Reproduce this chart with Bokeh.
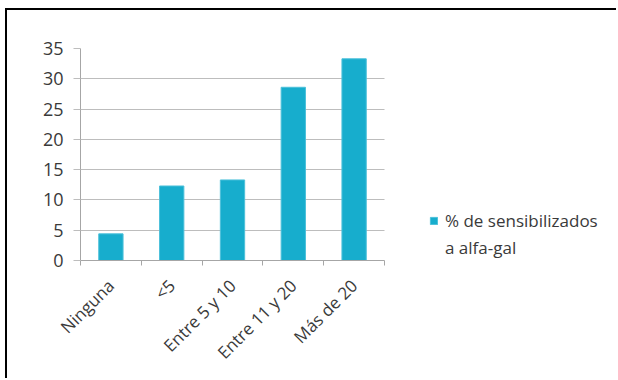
from bokeh.plotting import figure
from bokeh.models import (FixedTicker, Legend, LegendItem, ColumnDataSource, Range1d)
from bokeh.embed import file_html
from bokeh.resources import INLINE
import math

categories = ["Ninguna", "<5", "Entre 5 y 10", "Entre 11 y 20", "Más de 20"]
values = [4.4, 12.3, 13.3, 28.6, 33.3]
y_ticks = [0, 5, 10, 15, 20, 25, 30, 35]
series_name_lines = ["% de sensibilizados", "a alfa-gal"]

FONT = "Open Sans"
TXT = "#3A3A3A"
BAR = "#17ADCD"
AXIS = "#A6A6A6"

n = len(categories)
xs = [i + 0.5 for i in range(n)]
src = ColumnDataSource(dict(x=xs, top=values, cat=categories))

# page geometry (pixels)
CX, CY = 7, 10            # content origin after css margin + border
FL, FR, FT, FB = 80, 618, 48, 260   # frame edges on the page
axis_px = 304             # width of the category axis
x_end = n * (FR - FL) / axis_px

p = figure(width=618 - CX, height=380 - CY, output_backend="svg", toolbar_location=None,
           x_range=Range1d(0, x_end), y_range=Range1d(0, 35),
           min_border_left=FL - CX, min_border_right=0, min_border_top=FT - CY,
           min_border_bottom=380 - FB)
p.outline_line_color = None
p.background_fill_color = "white"
p.border_fill_color = "white"
p.styles = {"border-top": "2px solid black", "border-left": "2px solid black",
            "margin-left": f"{CX - 2}px", "margin-top": f"{CY - 2}px"}

r = p.vbar(x="x", top="top", width=0.4, source=src, fill_color=BAR, line_color="#4CC0DA", line_width=1)
# empty renderer used only to carry the second line of the legend label (no glyph shown)
r_blank = p.vbar(x=[], top=[], width=0.4, fill_alpha=0, line_alpha=0)

# x axis: labels at centers, tick marks at category boundaries
xa = p.xaxis[0]
xa.bounds = (0, n)
xa.ticker = FixedTicker(ticks=xs, minor_ticks=list(range(n + 1)))
xa.major_label_overrides = {x: c for x, c in zip(xs, categories)}
xa.major_tick_line_color = None
xa.minor_tick_line_color = AXIS
xa.minor_tick_out = 5
xa.minor_tick_in = 0
xa.axis_line_color = AXIS
xa.major_label_orientation = math.pi / 4
xa.major_label_text_font = FONT
xa.major_label_text_font_size = "17px"
xa.major_label_text_color = TXT
xa.major_label_standoff = 16

ya = p.yaxis[0]
ya.ticker = FixedTicker(ticks=y_ticks)
ya.minor_tick_line_color = None
ya.major_tick_line_color = "#BDBDBD"
ya.major_tick_out = 7
ya.major_tick_in = 0
ya.axis_line_color = AXIS
ya.major_label_text_font = FONT
ya.major_label_text_font_size = "18px"
ya.major_label_text_color = TXT
ya.major_label_standoff = 10

p.xgrid.grid_line_color = None
p.ygrid.ticker = FixedTicker(ticks=y_ticks)
p.ygrid.cross_bounds = (0, n)
p.ygrid.grid_line_color = "#BDBDBD"
p.ygrid.grid_line_width = 1

legend = Legend(items=[LegendItem(label=series_name_lines[0], renderers=[r]),
                       LegendItem(label=series_name_lines[1], renderers=[r_blank])],
                location=(429 - FL, 1), orientation="vertical",
                border_line_color=None, background_fill_alpha=0,
                glyph_width=9, glyph_height=9, padding=0, margin=0, spacing=4,
                label_height=20,
                label_text_font=FONT, label_text_font_size="17px", label_text_color=TXT,
                label_standoff=7)
p.add_layout(legend, "center")

open("out.html", "w").write(file_html(p, INLINE))
